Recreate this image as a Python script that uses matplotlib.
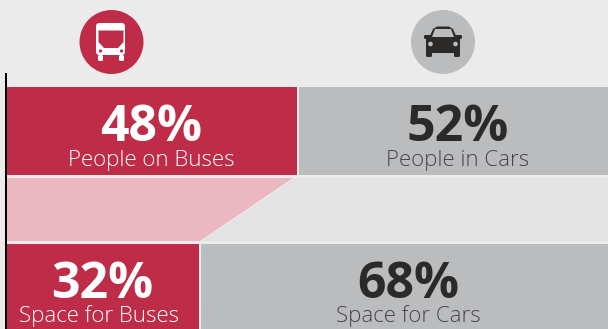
import matplotlib

matplotlib.use("Agg")
import matplotlib.pyplot as plt
from matplotlib.patches import Circle, FancyBboxPatch, Polygon, Rectangle

W, H = 608, 329

people_labels = ["People on Buses", "People in Cars"]
people_values = [48, 52]
space_labels = ["Space for Buses", "Space for Cars"]
space_values = [32, 68]

RED = "#bf2c47"
GREY = "#bbbcbe"
PINK = "#ebb8c1"
PALE = "#e3e3e3"
BG = "#ebebeb"
DARK = "#2b2a28"

PX_PER_PCT = 6.125
X0 = 4
GAP = 0.17

plt.rcParams["font.family"] = ["Open Sans", "DejaVu Sans"]

fig = plt.figure(figsize=(W / 100, H / 100), dpi=100, facecolor=BG)

# bars are in percent, y is in pixels from the top
ax = fig.add_axes([0, 0, 1, 1], facecolor=BG)
ax.set_xlim(-X0 / PX_PER_PCT, (W - X0) / PX_PER_PCT)
ax.set_ylim(H, 0)
ax.axis("off")

# overlay in plain pixels for the icons
ic = fig.add_axes([0, 0, 1, 1], facecolor="none")
ic.set_xlim(0, W)
ic.set_ylim(H, 0)
ic.axis("off")


def draw_row(values, labels, y_top, y_bottom, num_base, label_base, label_shift=0):
    height = y_bottom - y_top
    center = (y_top + y_bottom) / 2
    left = 0
    for i, (val, lab) in enumerate(zip(values, labels)):
        color = RED if i == 0 else GREY
        ax.barh(center, val - GAP, left=left + (GAP if i else 0), height=height,
                color=color, edgecolor="none")
        mid = left + val / 2
        tc = "white" if i == 0 else DARK
        lc = "white" if i == 0 else "#47474a"
        ax.text(mid, num_base, f"{val}%", color=tc, fontsize=36,
                fontweight="bold", ha="center", va="baseline")
        ax.text(mid + (label_shift if i == 0 else 0), label_base, lab, color=lc,
                fontsize=16, fontweight="light", ha="center", va="baseline")
        left += val


draw_row(people_values, people_labels, 87, 175, 141, 166)
draw_row(space_values, space_labels, 244, 340, 298, 322, label_shift=-0.5)

# funnel between the rows
y1, y2 = 178, 241
ax.add_patch(Polygon([(0, y1), (people_values[0] - 0.8, y1),
                      (space_values[0], y2), (0, y2)],
                     facecolor=PINK, edgecolor="none"))
ax.add_patch(Polygon([(people_values[0] - 0.3, y1), (102, y1), (102, y2),
                      (space_values[0] + 0.4, y2)],
                     facecolor=PALE, edgecolor="none"))

# black axis line, background left of it
ic.add_patch(Rectangle((0, 73), 4.5, H - 73, facecolor=BG, edgecolor="none"))
ic.add_patch(Rectangle((4.5, 73), 2.8, H - 73, facecolor="black", edgecolor="none"))


def rbox(x, y, w, h, r, color, z=3):
    ic.add_patch(FancyBboxPatch((x + r, y + r), w - 2 * r, h - 2 * r,
                                boxstyle=f"round,pad={r},rounding_size={r}",
                                facecolor=color, edgecolor="none", zorder=z))


# bus icon
ic.add_patch(Circle((111.5, 42), 32, facecolor=RED, edgecolor="none"))
rbox(96, 23, 29, 32, 3.5, "white")
rbox(98, 55, 5, 6, 1.5, "white")
rbox(119, 55, 5, 6, 1.5, "white")
ic.add_patch(Polygon([(98.5, 30.5), (123.5, 30.5), (123.5, 42), (118, 48),
                      (104, 48), (98.5, 42)], facecolor=RED, edgecolor="none", zorder=4))
ic.add_patch(Circle((100.5, 51), 1.6, facecolor=RED, edgecolor="none", zorder=4))
ic.add_patch(Circle((121.5, 51), 1.6, facecolor=RED, edgecolor="none", zorder=4))

# car icon
ic.add_patch(Circle((443, 42), 32, facecolor=GREY, edgecolor="none"))
ic.add_patch(Polygon([(429, 38), (433, 29), (437, 26.5), (449, 26.5), (453, 29), (457, 38)],
                     facecolor=DARK, edgecolor="none", zorder=3))
rbox(426, 36, 34, 17, 3, DARK)
rbox(424, 35, 7, 4, 1.5, DARK)
rbox(455, 35, 7, 4, 1.5, DARK)
rbox(426, 50, 6, 7, 1.5, DARK)
rbox(454, 50, 6, 7, 1.5, DARK)
ic.add_patch(Polygon([(432, 37), (435, 29), (451, 29), (454, 37)],
                     facecolor=GREY, edgecolor="none", zorder=4))
ic.add_patch(Circle((430.5, 44), 2.3, facecolor=GREY, edgecolor="none", zorder=4))
ic.add_patch(Circle((455.5, 44), 2.3, facecolor=GREY, edgecolor="none", zorder=4))

fig.savefig("out.png", dpi=100, facecolor=BG)
